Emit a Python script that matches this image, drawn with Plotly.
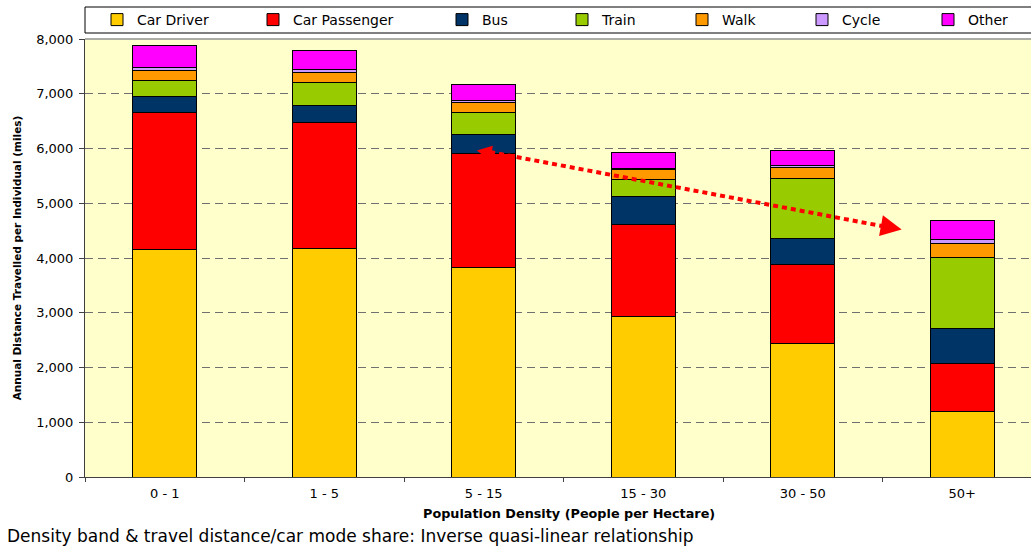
import plotly.graph_objects as go

categories = ["0 - 1", "1 - 5", "5 - 15", "15 - 30", "30 - 50", "50+"]
car_driver = [4150, 4180, 3820, 2930, 2430, 1200]
car_passenger = [2500, 2300, 2090, 1690, 1455, 865]
bus = [305, 305, 345, 495, 465, 645]
train = [290, 420, 405, 310, 1105, 1305]
walk = [185, 190, 185, 190, 200, 255]
cycle = [50, 45, 35, 25, 35, 75]
other = [400, 355, 290, 290, 270, 335]

series_names = ["Car Driver", "Car Passenger", "Bus", "Train", "Walk", "Cycle", "Other"]
series_values = [car_driver, car_passenger, bus, train, walk, cycle, other]
series_colors = ["#FFCC00", "#FF0000", "#003366", "#99CC00", "#FF9900", "#CC99FF", "#FF00FF"]
legend_text_px = [137, 293, 482, 602, 722, 842, 968]

W, H = 1031, 548
ML, MR, MT, MB = 85, 0, 39, 71
PW = W - ML - MR
PH = H - MT - MB
cat_px = 159.5

fig = go.Figure()
for i, (name, vals, col) in enumerate(zip(series_names, series_values, series_colors)):
    lg = "legend" if i == 0 else f"legend{i+1}"
    fig.add_trace(go.Bar(
        x=categories, y=vals, name=name,
        marker=dict(color=col, line=dict(color="#000000", width=1)),
        legend=lg, showlegend=True,
    ))

font_family = "DejaVu Sans, Arial, sans-serif"
legend_layouts = {}
for i, px in enumerate(legend_text_px):
    key = "legend" if i == 0 else f"legend{i+1}"
    legend_layouts[key] = dict(
        x=(px - 40 - ML) / PW, xanchor="left",
        y=(H - MB - 20) / PH, yanchor="middle",
        bgcolor="rgba(0,0,0,0)", borderwidth=0,
        font=dict(family=font_family, size=14, color="#000000"),
        orientation="h",
    )

# Trend arrow (annotation geometry)
arrow_start = (2.04, 5936)
arrow_end = (4.545, 4557)
arrow_tip = (4.62, 4521)
arrow_tail_tip = (1.956, 5963)

x_title = "Population Density (People per Hectare)"
y_title = "Annual Distance Travelled per Individual (miles)"
caption = "Density band & travel distance/car mode share: Inverse quasi-linear relationship"

fig.update_layout(
    width=W, height=H,
    showlegend=True,
    margin=dict(l=ML, r=MR, t=MT, b=MB, pad=0),
    paper_bgcolor="#FFFFFF",
    plot_bgcolor="#FFFFCC",
    barmode="stack",
    bargap=0.6,
    font=dict(family=font_family, size=12, color="#000000"),
    xaxis=dict(
        type="category",
        range=[-0.5, -0.5 + PW / cat_px],
        showgrid=False,
        showline=True, linecolor="#404040", linewidth=1,
        ticks="outside", tickson="boundaries", ticklen=4, tickcolor="#404040",
        ticklabelstandoff=4,
        tickfont=dict(family=font_family, size=13, color="#000000"),
    ),
    yaxis=dict(
        range=[0, 8000], dtick=1000, tickformat=",",
        showgrid=True, gridcolor="#707070", gridwidth=1, griddash="8px,5px",
        showline=True, linecolor="#404040", linewidth=1,
        ticks="outside", ticklen=5, tickcolor="#404040",
        ticklabelstandoff=3,
        tickfont=dict(family=font_family, size=13, color="#000000"),
        zeroline=False,
        title=dict(text=f"<b>{y_title}</b>",
                   font=dict(family=font_family, size=10.5, color="#000000"),
                   standoff=12),
    ),
    shapes=[
        dict(type="line", xref="paper", yref="paper", x0=0, x1=1, y0=1, y1=1,
             line=dict(color="#909090", width=1.5)),
        dict(type="rect", xref="paper", yref="paper",
             x0=0, x1=1.05, y0=(H - MB - 7) / PH, y1=(H - MB - 33) / PH,
             line=dict(color="#000000", width=1), fillcolor="rgba(0,0,0,0)"),
        dict(type="line", xref="x", yref="y",
             x0=arrow_start[0], y0=arrow_start[1], x1=arrow_end[0], y1=arrow_end[1],
             line=dict(color="#FF0000", width=4, dash="5px,4px")),
    ],
    annotations=[
        dict(x=arrow_tip[0], y=arrow_tip[1], xref="x", yref="y",
             ax=-14, ay=-2.6, showarrow=True, arrowhead=2, arrowsize=1.4,
             arrowwidth=3, arrowcolor="#FF0000", text=""),
        dict(x=arrow_tail_tip[0], y=arrow_tail_tip[1], xref="x", yref="y",
             ax=12, ay=2.2, showarrow=True, arrowhead=2, arrowsize=1.0,
             arrowwidth=3, arrowcolor="#FF0000", text=""),
        dict(x=(569 - ML) / PW, y=(H - MB - 513) / PH, xref="paper", yref="paper",
             xanchor="center", yanchor="middle", showarrow=False,
             text=f"<b>{x_title}</b>",
             font=dict(family=font_family, size=12.8, color="#000000")),
        dict(x=(5 - ML) / PW, y=(H - MB - 536) / PH, xref="paper", yref="paper",
             xanchor="left", yanchor="middle", showarrow=False,
             text=caption,
             font=dict(family=font_family, size=17, color="#000000")),
    ],
    **legend_layouts,
)

fig.write_html("out.html")
